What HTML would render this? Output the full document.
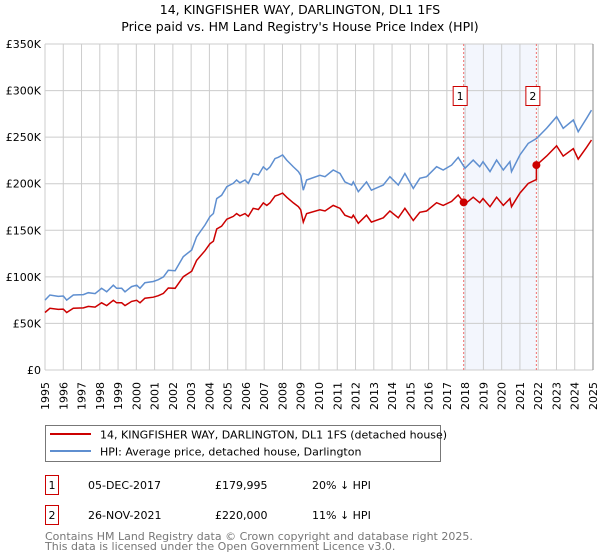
<!DOCTYPE html>
<html><head><meta charset="utf-8"><style>
body{margin:0;background:#fff;font-family:"DejaVu Sans","Liberation Sans",sans-serif;}
svg{display:block}
</style></head><body>
<svg id="chart" width="600" height="560" viewBox="0 0 600 560" xmlns="http://www.w3.org/2000/svg" font-family="DejaVu Sans, Liberation Sans, sans-serif">
<text x="300" y="14" text-anchor="middle" font-size="12.5">14, KINGFISHER WAY, DARLINGTON, DL1 1FS</text>
<text x="300" y="31" text-anchor="middle" font-size="12.5">Price paid vs. HM Land Registry's House Price Index (HPI)</text>
<g id="grid"></g>
<g id="marks"></g>
<g id="axes"></g>
<g>
<rect x="45.5" y="425.5" width="395" height="36" fill="#fff" stroke="#777"/>
<line x1="50" y1="434" x2="91" y2="434" stroke="#cc0000" stroke-width="2"/>
<text x="100" y="438.5" font-size="11">14, KINGFISHER WAY, DARLINGTON, DL1 1FS (detached house)</text>
<line x1="50" y1="451" x2="91" y2="451" stroke="#5f8fd0" stroke-width="2"/>
<text x="100" y="455.5" font-size="11">HPI: Average price, detached house, Darlington</text>
</g>
<g font-size="11">
<rect x="45.5" y="475.5" width="13" height="19" fill="#fff" stroke="#cc0000"/>
<text x="52" y="489" text-anchor="middle">1</text>
<text x="88" y="489">05-DEC-2017</text><text x="215" y="489">£179,995</text><text x="312" y="489">20% ↓ HPI</text>
<rect x="45.5" y="505.5" width="13" height="19" fill="#fff" stroke="#cc0000"/>
<text x="52" y="519" text-anchor="middle">2</text>
<text x="88" y="519">26-NOV-2021</text><text x="215" y="519">£220,000</text><text x="312" y="519">11% ↓ HPI</text>
</g>
<text x="45" y="540" font-size="11" fill="#777">Contains HM Land Registry data © Crown copyright and database right 2025.</text>
<text x="45" y="550" font-size="11" fill="#777">This data is licensed under the Open Government Licence v3.0.</text>
</svg>
<script>
const hpiYears=[1995.0,1995.27,1995.73,1996.0,1996.19,1996.55,1997.1,1997.37,1997.74,1998.1,1998.38,1998.74,1998.92,1999.2,1999.38,1999.74,2000.02,2000.2,2000.47,2000.93,2001.2,2001.48,2001.75,2002.12,2002.57,2003.03,2003.3,2003.76,2004.03,2004.22,2004.4,2004.67,2004.95,2005.13,2005.31,2005.49,2005.67,2005.95,2006.13,2006.4,2006.68,2006.95,2007.14,2007.32,2007.59,2007.77,2008.01,2008.23,2008.6,2008.87,2009.0,2009.14,2009.32,2010.05,2010.33,2010.78,2011.15,2011.42,2011.79,2011.88,2012.15,2012.6,2012.87,2013.52,2013.88,2014.34,2014.7,2015.16,2015.52,2015.89,2016.44,2016.8,2017.26,2017.62,2017.99,2018.44,2018.8,2018.98,2019.36,2019.72,2020.09,2020.45,2020.54,2021.0,2021.45,2021.91,2022.46,2023.01,2023.37,2023.92,2024.19,2024.65,2024.92];
const hpiValues=[75,80.5,79,79.5,75,80.5,81,83,82,87.7,84,91,87.7,87.7,84,89.5,91,87.7,93.7,95,97,100,107,106.6,121.7,128.8,143,155.7,164.6,168,184,187.6,196.8,198.6,200.4,204,201,204,200.4,211,209.4,218,214.8,218,227,228.4,230.8,225.4,218,213,209,193,204,209,207.5,214.7,211,202,198.6,202,191.4,202,193,198.6,207.5,198.6,211,195,205.8,207.5,218.3,214.7,220,228.3,216.5,225.4,218.3,223.6,213,225.4,214.7,223.6,213,230.8,243.3,248.7,259.5,272,259.5,268.4,255.8,270.2,279];
const saleYears=[2017.92,2021.9];
const salePrices=[179.995,220];
const saleLabels=["1","2"];
const yTicks=[0,50,100,150,200,250,300,350];
const yTickLabels=["£0","£50K","£100K","£150K","£200K","£250K","£300K","£350K"];
const xTicks=[1995,1996,1997,1998,1999,2000,2001,2002,2003,2004,2005,2006,2007,2008,2009,2010,2011,2012,2013,2014,2015,2016,2017,2018,2019,2020,2021,2022,2023,2024,2025];

const X0=45,X1=593,Y0=370,Y1=44;
const xs=y=>X0+(y-1995)/30*(X1-X0);
const ys=v=>Y0-v/350*(Y0-Y1);
const NS="http://www.w3.org/2000/svg";
function mk(tag,attrs,parent){const e=document.createElementNS(NS,tag);for(const k in attrs)e.setAttribute(k,attrs[k]);parent.appendChild(e);return e;}
const grid=document.getElementById('grid'),marks=document.getElementById('marks'),axes=document.getElementById('axes');
function hpiAt(t){for(let i=1;i<hpiYears.length;i++){if(t<=hpiYears[i]){const a=hpiYears[i-1],b=hpiYears[i];return hpiValues[i-1]+(hpiValues[i]-hpiValues[i-1])*(t-a)/(b-a);}}return hpiValues[hpiValues.length-1];}
const band=mk('rect',{x:xs(saleYears[0]),y:Y1,width:xs(saleYears[1])-xs(saleYears[0]),height:Y0-Y1,fill:'#f3f6fd'},grid);


xTicks.forEach(t=>{const l=mk('line',{x1:xs(t),x2:xs(t),y1:Y1,y2:Y0,stroke:'#cccccc','stroke-width':1},grid);


const tx=mk('text',{x:0,y:0,'font-size':11,'text-anchor':'end',transform:`translate(${xs(t)+4},382) rotate(-90)`},axes);tx.textContent=t;

});
yTicks.forEach((v,i)=>{const l=mk('line',{x1:X0,x2:X1,y1:ys(v),y2:ys(v),stroke:'#cccccc','stroke-width':1},grid);


const tx=mk('text',{x:X0-4,y:ys(v)+4,'font-size':11,'text-anchor':'end'},axes);tx.textContent=yTickLabels[i];

});
const ra=mk('line',{x1:X1,x2:X1,y1:Y1,y2:Y0,stroke:'#888'},axes);


saleYears.forEach((s,i)=>{const l=mk('line',{x1:xs(s),x2:xs(s),y1:Y1,y2:Y0,stroke:'#f07070','stroke-dasharray':'2,2','stroke-width':1},grid);

});
const hp=hpiYears.map((t,i)=>xs(t).toFixed(1)+','+ys(hpiValues[i]).toFixed(1)).join(' ');
const hl=mk('polyline',{points:hp,fill:'none',stroke:'#5f8fd0','stroke-width':1.5},marks);


const r=saleYears.map((s,i)=>salePrices[i]/hpiAt(s));
const pts=[];
hpiYears.forEach((t,i)=>{const f=t<saleYears[1]?r[0]:r[1];
if(i>0&&hpiYears[i-1]<saleYears[1]&&t>=saleYears[1]){pts.push([saleYears[1],hpiAt(saleYears[1])*r[0]]);pts.push([saleYears[1],salePrices[1]]);}
pts.push([t,hpiValues[i]*f]);});
const pl=mk('polyline',{points:pts.map(p=>xs(p[0]).toFixed(1)+','+ys(p[1]).toFixed(1)).join(' '),fill:'none',stroke:'#cc0000','stroke-width':1.5},marks);


saleYears.forEach((s,i)=>{const c=mk('circle',{cx:xs(s),cy:ys(salePrices[i]),r:4,fill:'#cc0000'},marks);


const bx=mk('rect',{x:xs(s)-10.5,y:86.5,width:14,height:19,fill:'#fff',stroke:'#cc0000'},marks);


const tx=mk('text',{x:xs(s)-3.5,y:100,'font-size':11,'text-anchor':'middle'},marks);tx.textContent=saleLabels[i];

});
</script>
</body></html>
